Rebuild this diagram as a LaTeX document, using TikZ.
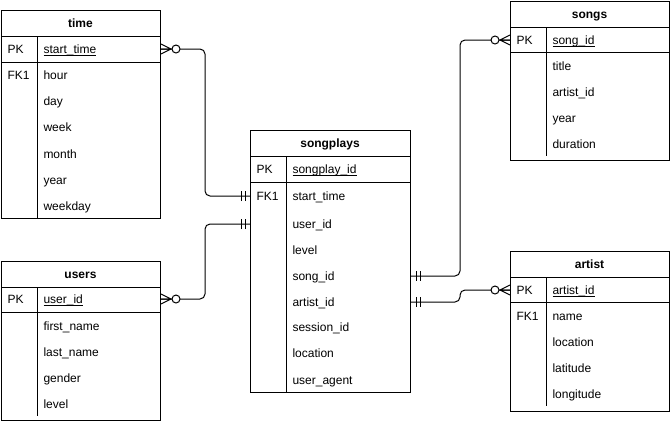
\documentclass[tikz,border=0pt]{standalone}
\usepackage{fontspec}
\setmainfont{Liberation Sans}
\tikzset{
  every node/.style={font=\fontsize{12}{14}\selectfont},
  tablebox/.style={draw, anchor=north west, inner sep=0pt},
  headtext/.style={font=\fontsize{12}{14}\selectfont\bfseries, inner sep=0pt, text height=8.6pt, text depth=0pt},
  rowtext/.style={anchor=west, inner sep=0pt, text height=8.6pt, text depth=0pt},
  link/.style={rounded corners=5pt},
  crowzero/.pic={\draw (0,-5) -- (10,0) -- (0,5) (0,0) -- (10,0);
                 \draw[fill=white] (15,0) circle (4pt);},
  onebar/.pic={\draw (5,-5) -- (5,5) (9,-5) -- (9,5);}
}
\newcommand{\pkey}[1]{\underline{\smash{#1}}}

\begin{document}
\begin{tikzpicture}[x=1pt, y=-1pt, line width=1pt]
  \useasboundingbox (0,0) rectangle (671,421);

  % time
  \node[tablebox, minimum width=159pt, minimum height=208pt] (time) at (1,10) {};
  \node[headtext] (time-head) at (80.5,23) {time};
  \draw (1,36) -- (160,36) (1,62) -- (160,62) (37,36) -- (37,218);
  \node[rowtext] (time-pk) at (7,49) {PK};
  \node[rowtext] (time-start) at (43,49) {\pkey{start\_time}};
  \node[rowtext] (time-fk) at (7,75) {FK1};
  \node[rowtext] (time-hour) at (43,75) {hour};
  \node[rowtext] (time-day) at (43,101) {day};
  \node[rowtext] (time-week) at (43,127) {week};
  \node[rowtext] (time-month) at (43,154) {month};
  \node[rowtext] (time-year) at (43,180) {year};
  \node[rowtext] (time-weekday) at (43,206) {weekday};

  % users
  \node[tablebox, minimum width=159pt, minimum height=159pt] (users) at (1,261) {};
  \node[headtext] (users-head) at (80.5,274) {users};
  \draw (1,287) -- (160,287) (1,312) -- (160,312) (37,287) -- (37,416);
  \node[rowtext] (users-pk) at (7,299) {PK};
  \node[rowtext] (users-id) at (43,299) {\pkey{user\_id}};
  \node[rowtext] (users-first) at (43,326) {first\_name};
  \node[rowtext] (users-last) at (43,352) {last\_name};
  \node[rowtext] (users-gender) at (43,378) {gender};
  \node[rowtext] (users-level) at (43,404) {level};

  % songplays
  \node[tablebox, minimum width=160pt, minimum height=262pt] (songplays) at (250,130) {};
  \node[headtext] (sp-head) at (330,143) {songplays};
  \draw (250,156) -- (410,156) (250,182) -- (410,182) (286,156) -- (286,392);
  \node[rowtext] (sp-pk) at (256,169) {PK};
  \node[rowtext] (sp-id) at (292,169) {\pkey{songplay\_id}};
  \node[rowtext] (sp-fk) at (256,196) {FK1};
  \node[rowtext] (sp-start) at (292,196) {start\_time};
  \node[rowtext] (sp-user) at (292,224) {user\_id};
  \node[rowtext] (sp-level) at (292,250) {level};
  \node[rowtext] (sp-song) at (292,276) {song\_id};
  \node[rowtext] (sp-artist) at (292,302) {artist\_id};
  \node[rowtext] (sp-session) at (292,327) {session\_id};
  \node[rowtext] (sp-location) at (292,353) {location};
  \node[rowtext] (sp-agent) at (292,380) {user\_agent};

  % songs
  \node[tablebox, minimum width=159pt, minimum height=159pt] (songs) at (510,1) {};
  \node[headtext] (songs-head) at (589.5,14) {songs};
  \draw (510,27) -- (669,27) (510,52) -- (669,52) (546,27) -- (546,156);
  \node[rowtext] (songs-pk) at (516,40) {PK};
  \node[rowtext] (songs-id) at (552,40) {\pkey{song\_id}};
  \node[rowtext] (songs-title) at (552,66) {title};
  \node[rowtext] (songs-artist) at (552,92) {artist\_id};
  \node[rowtext] (songs-year) at (552,118) {year};
  \node[rowtext] (songs-duration) at (552,144) {duration};

  % artist
  \node[tablebox, minimum width=159pt, minimum height=160pt] (artist) at (510,251) {};
  \node[headtext] (artist-head) at (589.5,264) {artist};
  \draw (510,277) -- (669,277) (510,302) -- (669,302) (546,277) -- (546,406);
  \node[rowtext] (artist-pk) at (516,290) {PK};
  \node[rowtext] (artist-id) at (552,290) {\pkey{artist\_id}};
  \node[rowtext] (artist-fk) at (516,316) {FK1};
  \node[rowtext] (artist-name) at (552,316) {name};
  \node[rowtext] (artist-location) at (552,342) {location};
  \node[rowtext] (artist-latitude) at (552,368) {latitude};
  \node[rowtext] (artist-longitude) at (552,394) {longitude};

  % relations
  \coordinate (left-bend) at (205,0);
  \coordinate (right-bend) at (460,0);
  \draw[link] (time.east |- time-start) -| (left-bend |- sp-start) -- (songplays.west |- sp-start);
  \draw[link] (users.east |- users-id) -| (left-bend |- sp-user) -- (songplays.west |- sp-user);
  \draw[link] (songplays.east |- sp-song) -| (right-bend |- songs-id) -- (songs.west |- songs-id);
  \draw[link] (songplays.east |- sp-artist) -| (right-bend |- artist-id) -- (artist.west |- artist-id);
  \pic at (time.east |- time-start) {crowzero};
  \pic at (users.east |- users-id) {crowzero};
  \pic[rotate=180] at (songs.west |- songs-id) {crowzero};
  \pic[rotate=180] at (artist.west |- artist-id) {crowzero};
  \pic[rotate=180] at (songplays.west |- sp-start) {onebar};
  \pic[rotate=180] at (songplays.west |- sp-user) {onebar};
  \pic at (songplays.east |- sp-song) {onebar};
  \pic at (songplays.east |- sp-artist) {onebar};
\end{tikzpicture}
\end{document}
